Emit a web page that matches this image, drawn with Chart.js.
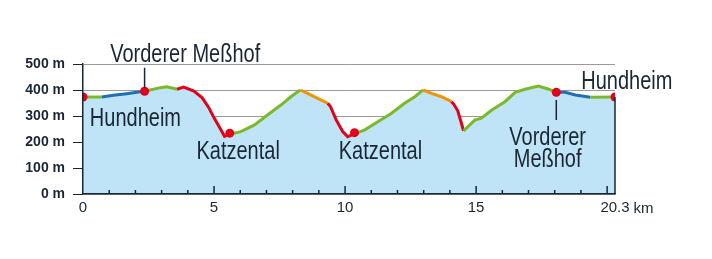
<!DOCTYPE html>
<html>
<head>
<meta charset="utf-8">
<script src="https://cdn.jsdelivr.net/npm/chart.js@4"></script>
<style>
  body { margin: 0; background: #fff; }
</style>
</head>
<body>
<canvas id="profile" width="712" height="259"></canvas>
<script>
// elevation profile, km / m
const distKm = [0, 0.72, 1.16, 1.67, 2.12, 2.35, 2.95, 3.2, 3.59, 3.84, 4.23, 4.55, 4.8, 5.0, 5.25, 5.4, 5.6,
  6.02, 6.53, 7.04, 7.55, 7.93, 8.29, 8.57, 8.95, 9.34, 9.45, 9.66, 9.91, 10.1, 10.36,
  10.74, 11.25, 11.76, 12.27, 12.66, 12.98, 13.3, 13.68, 14.06, 14.15, 14.3, 14.44, 14.52,
  14.95, 15.2, 15.6, 16.1, 16.49, 16.87, 17.38, 17.77, 18.06, 18.4, 18.79, 19.36, 20.3]
const elevM = [373, 373, 380, 386, 392, 395, 409, 412, 403, 411, 396, 370, 332, 293, 249, 222, 230,
  240, 265, 304, 342, 374, 400, 387, 368, 349, 335, 285, 240, 220, 232,
  246, 278, 310, 349, 374, 400, 387, 374, 355, 345, 320, 272, 243,
  284, 292, 323, 355, 391, 403, 415, 403, 391, 391, 381, 372, 373]
// gradient class of the segment starting at each point
const slope = ['g', 'b', 'b', 'b', 'b', 'g', 'g', 'g', 'r', 'r', 'r', 'r', 'r', 'r', 'r', 'r',
  'g', 'g', 'g', 'g', 'g', 'g', 'o', 'o', 'o', 'r', 'r', 'r', 'r', 'r',
  'g', 'g', 'g', 'g', 'g', 'g', 'o', 'o', 'o', 'r', 'r', 'r', 'r',
  'g', 'g', 'g', 'g', 'g', 'g', 'g', 'g', 'g', 'b', 'b', 'b', 'g']

// stops
const stopKm = [0, 2.35, 5.6, 10.36, 18.06, 20.3]
const stopM = [373, 395, 234, 236, 391, 373]

const xTickVals = [0, 5, 10, 15, 20.3]
const majorTicks = [5, 10, 15, 20]
const minorTicks = [1, 2, 3, 4, 6, 7, 8, 9, 11, 12, 13, 14, 16, 17, 18, 19]

const placeLabels = [
  { text: ['Vorderer Meßhof'], km: 3.9, m: 508 },
  { text: ['Hundheim'], km: 2.0, m: 262 },
  { text: ['Katzental'], km: 5.92, m: 135 },
  { text: ['Katzental'], km: 11.35, m: 133 },
  { text: ['Vorderer', 'Meßhof'], km: 17.73, m: 188 },
  { text: ['Hundheim'], km: 20.75, m: 405 }
]
const leaders = [
  { km: 2.35, from: 486, to: 409 },
  { km: 18.06, from: 362, to: 285 }
]

const COLORS = { g: '#7cb92a', b: '#1e6fb6', o: '#f39200', r: '#e3001b' }
const INK = '#1b2633'
const SANS = "'Liberation Sans', Arial, sans-serif"

const overlay = {
  id: 'overlay',
  afterDatasetsDraw(chart) {
    const c = chart.ctx
    const x = chart.scales.x, y = chart.scales.y
    const base = y.getPixelForValue(0)
    c.save()
    c.strokeStyle = INK
    c.lineWidth = 1.5
    c.beginPath()
    majorTicks.forEach(v => { const px = x.getPixelForValue(v); c.moveTo(px, base); c.lineTo(px, base - 8) })
    minorTicks.forEach(v => { const px = x.getPixelForValue(v); c.moveTo(px, base); c.lineTo(px, base - 4) })
    // right end of the profile
    const end = distKm.length - 1
    c.moveTo(x.getPixelForValue(distKm[end]), base)
    c.lineTo(x.getPixelForValue(distKm[end]), y.getPixelForValue(elevM[end]))
    leaders.forEach(l => {
      const px = x.getPixelForValue(l.km)
      c.moveTo(px, y.getPixelForValue(l.from))
      c.lineTo(px, y.getPixelForValue(l.to))
    })
    c.stroke()

    // place names, condensed
    c.fillStyle = INK
    c.font = '25px ' + SANS
    c.textAlign = 'center'
    c.textBaseline = 'alphabetic'
    placeLabels.forEach(p => {
      p.text.forEach((t, i) => {
        c.save()
        c.translate(x.getPixelForValue(p.km), y.getPixelForValue(p.m) + i * 22)
        c.scale(0.8, 1)
        c.fillText(t, 0, 0)
        c.restore()
      })
    })

    // unit after the last distance label
    c.font = '15px ' + SANS
    const last = xTickVals[xTickVals.length - 1]
    const w = c.measureText(String(last)).width
    c.textAlign = 'left'
    c.textBaseline = 'top'
    c.fillText('km', x.getPixelForValue(last) + w / 2 + 4, base + 7)
    c.restore()
  }
}

new Chart(document.getElementById('profile'), {
  type: 'line',
  data: {
    datasets: [
      {
        data: stopKm.map((d, i) => ({ x: d, y: stopM[i] })),
        showLine: false,
        pointRadius: 4.5,
        pointBackgroundColor: COLORS.r,
        pointBorderWidth: 0,
        order: 0
      },
      {
        data: distKm.map((d, i) => ({ x: d, y: elevM[i] })),
        borderWidth: 3,
        borderColor: COLORS.g,
        segment: { borderColor: s => COLORS[slope[s.p0DataIndex]] },
        fill: false,
        pointRadius: 0,
        tension: 0,
        order: 1
      },
      {
        data: distKm.map((d, i) => ({ x: d, y: elevM[i] })),
        borderWidth: 0,
        fill: 'origin',
        backgroundColor: '#bfe4f7',
        pointRadius: 0,
        tension: 0,
        order: 2
      }
    ]
  },
  options: {
    responsive: false,
    animation: false,
    layout: { padding: { top: 64, right: 97, left: 0, bottom: 0 } },
    plugins: { legend: { display: false }, tooltip: { enabled: false } },
    scales: {
      x: {
        type: 'linear',
        min: 0,
        max: 20.3,
        afterBuildTicks: s => { s.ticks = xTickVals.map(v => ({ value: v })) },
        ticks: {
          callback: v => String(v),
          font: { family: SANS, size: 15 },
          color: INK,
          padding: 5,
          maxRotation: 0,
          autoSkip: false
        },
        grid: { display: false, drawTicks: false },
        border: { color: INK, width: 1.5, z: 1 },
        afterFit: s => { s.height = 65 }
      },
      y: {
        min: 0,
        max: 500,
        ticks: {
          stepSize: 100,
          callback: v => v + ' m',
          font: { family: SANS, size: 14, weight: 'bold' },
          color: INK,
          padding: 8
        },
        grid: { color: '#9a9a9a', tickColor: INK, tickLength: 10, lineWidth: 1 },
        border: { color: INK, width: 1.5, z: 1 },
        afterFit: s => { s.width = 83 }
      }
    }
  },
  plugins: [overlay]
})
</script>
</body>
</html>
